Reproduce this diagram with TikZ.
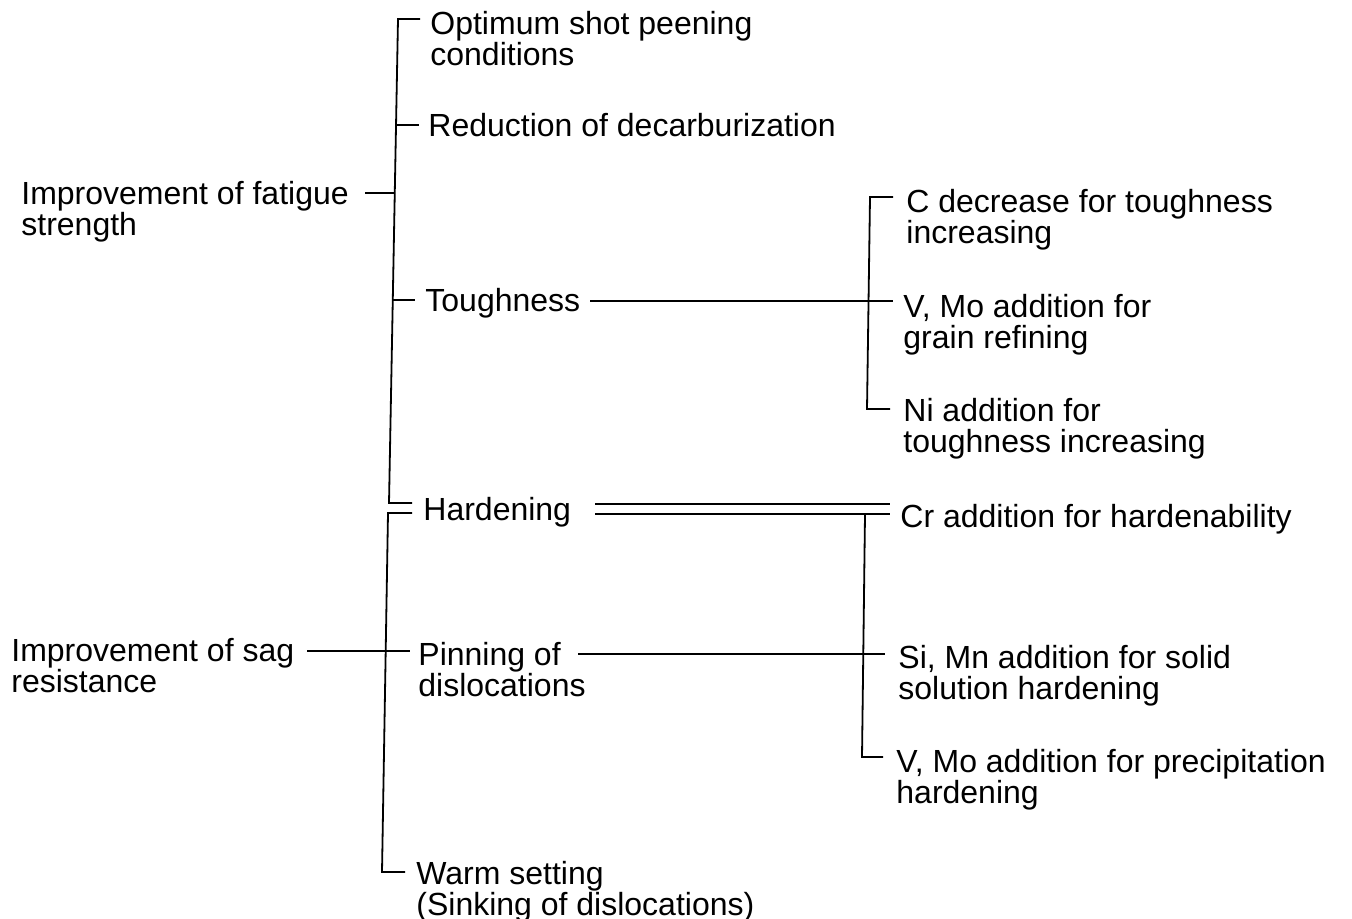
\documentclass[tikz,border=0pt]{standalone}
\usepackage{fontspec}
\setmainfont{Liberation Sans}
\begin{document}
\begin{tikzpicture}[x=0.5pt,y=-0.5pt,
  lbl/.style={anchor=base west,inner sep=0pt,align=left,font=\fontsize{16}{15.5}\selectfont},
  ln/.style={line width=0.9pt,black}]
\useasboundingbox (0,0) rectangle (1352,919);
% texts (base anchor = baseline of last line; baseline = line middle + 12)
\node[lbl] (fat) at (21,236) {Improvement of fatigue\\strength};
\node[lbl] (sag) at (11,692) {Improvement of sag\\resistance};
\node[lbl] (opt) at (430,66) {Optimum shot peening\\conditions};
\node[lbl] (red) at (428,137) {Reduction of decarburization};
\node[lbl] (tou) at (425,312) {Toughness};
\node[lbl] (har) at (423,520) {Hardening};
\node[lbl] (pin) at (418,696) {Pinning of\\dislocations};
\node[lbl] (warm) at (416,915) {Warm setting\\(Sinking of dislocations)};
\node[lbl] (cdec) at (906,244) {C decrease for toughness\\increasing};
\node[lbl] (vmo) at (903,348) {V, Mo addition for\\grain refining};
\node[lbl] (ni) at (903,452) {Ni addition for\\toughness increasing};
\node[lbl] (cr) at (900,527) {Cr addition for hardenability};
\node[lbl] (si) at (898,699) {Si, Mn addition for solid\\solution hardening};
\node[lbl] (vp) at (896,803) {V, Mo addition for precipitation\\hardening};
% upper bracket
\coordinate (ut) at (398,19);
\coordinate (ub) at (389,503);
\draw[ln] (420,19) -- (ut) -- (ub) -- (412,503);
\draw[ln] (396,125) -- (419,125);
\draw[ln] (392,300) -- (415,300);
\draw[ln] (365,193) -- (394,193);
% lower bracket
\coordinate (lt) at (388,513);
\coordinate (lb) at (382,872);
\draw[ln] (412,513) -- (lt) -- (lb) -- (405,872);
\draw[ln] (307,651) -- (410,651);
% toughness branch
\draw[ln] (893,197) -- (870,197) -- (867,409) -- (890,409);
\draw[ln] (590,301) -- (893,301);
% hardening double line
\draw[ln] (595,504) -- (890,504);
\draw[ln] (595,514) -- (890,514);
\draw[ln] (865,514) -- (862,757) -- (883,757);
\draw[ln] (578,654) -- (885,654);
\end{tikzpicture}
\end{document}
